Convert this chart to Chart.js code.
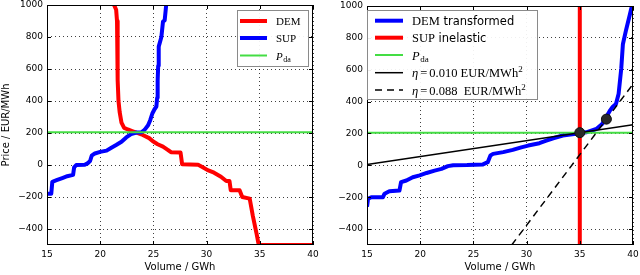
<!DOCTYPE html>
<html>
<head>
<meta charset="utf-8">
<title>Market curves</title>
<script src="https://cdn.jsdelivr.net/npm/chart.js@4"></script>
<style>
    html, body { margin: 0; padding: 0; background: #fff; }
    #wrap { display: flex; width: 640px; height: 275px; }
    canvas { display: block; }
</style>
</head>
<body>
<div id="wrap">
    <canvas id="leftChart" width="320" height="275"></canvas>
    <canvas id="rightChart" width="320" height="275"></canvas>
</div>
<script>
// Axis ticks
const volumeTicks = [15, 20, 25, 30, 35, 40];
const priceTicks = [-400, -200, 0, 200, 400, 600, 800, 1000];

// Left panel: demand curve (GWh, EUR/MWh)
const demVolume = [21.3, 21.5, 21.58, 21.62, 21.66, 21.72, 21.83, 22.0, 22.25, 22.6, 23.0, 23.4, 24.0, 24.6, 24.95, 25.4, 25.9, 26.35, 26.65, 27.55, 27.7, 29.2, 29.6, 30.1, 30.7, 31.35, 31.85, 32.15, 32.27, 33.1, 33.35, 34.05, 34.35, 34.7, 34.9, 40];
const demPrice = [1000, 970, 900, 700, 530, 400, 330, 265, 232, 222, 212, 202, 188, 168, 148, 130, 115, 95, 80, 78, 5, 2, -12, -32, -48, -73, -100, -100, -158, -158, -200, -210, -320, -430, -500, -500];

// Left panel: supply curve
const supVolume = [15, 15.4, 15.5, 15.9, 16.5, 16.9, 17.45, 17.55, 17.75, 18.55, 18.8, 19.05, 19.2, 19.5, 20.0, 20.6, 21.05, 21.5, 22.0, 22.45, 22.9, 23.4, 23.9, 24.15, 24.5, 24.7, 24.9, 25.12, 25.28, 25.35, 25.4, 25.45, 25.5, 25.75, 25.9, 26.06, 26.15, 26.2];
const supPrice = [-180, -180, -105, -95, -80, -70, -62, -15, 0, 2, 10, 25, 58, 72, 82, 90, 108, 125, 145, 172, 193, 203, 205, 218, 248, 280, 322, 350, 365, 420, 530, 620, 740, 800, 895, 905, 965, 1000];

// Day-ahead price
const priceDayAhead = 205;

// Right panel: transformed demand
const demTransVolume = [15, 15.1, 15.4, 16.5, 16.65, 17.1, 18.05, 18.2, 18.7, 19.3, 19.95, 20.6, 21.35, 22.0, 22.6, 23.1, 24.4, 25.9, 26.35, 26.6, 26.85, 27.8, 28.7, 29.5, 30.15, 31.2, 31.85, 32.5, 33.4, 35.0, 35.6, 36.55, 37.1, 37.8, 38.1, 38.4, 38.65, 38.9, 39.05, 39.35, 39.7, 39.85, 40];
const demTransPrice = [-260, -210, -200, -200, -178, -162, -158, -105, -95, -75, -63, -48, -33, -22, -5, 1, 2, 6, 20, 62, 72, 83, 97, 113, 124, 139, 155, 170, 187, 201, 207, 228, 259, 340, 368, 385, 450, 610, 760, 850, 945, 988, 1000];

// Right panel: inelastic supply volume
const supInelasticVolume = 35;

// Right panel: eta lines (end points)
const etaLowVolume = [15, 40];
const etaLowPrice = [5, 255];
const etaHighVolume = [28.6, 40];
const etaHighPrice = [-500, 510];

// Equilibrium points
const eqVolume = [35, 37.5];
const eqPrice = [205, 290];

function toPoints(xs, ys) {
    return xs.map((x, i) => ({ x: x, y: ys[i] }));
}

// Shared scale setup, both panels use the same plot box
function makeScales(showYTitle) {
    return {
        x: {
            type: "linear",
            min: 15,
            max: 40,
            afterBuildTicks: scale => { scale.ticks = volumeTicks.map(v => ({ value: v })); },
            afterFit: scale => { scale.height = 30; scale.paddingLeft = 0; scale.paddingRight = 0; },
            ticks: { color: "#000", padding: 4, font: { family: "DejaVu Sans", size: 9 } },
            grid: { color: "rgba(0,0,0,0.75)", lineWidth: 1, drawTicks: false },
            border: { display: false, dash: [1, 3] },
            title: {
                display: true,
                text: "Volume / GWh",
                color: "#000",
                font: { family: "DejaVu Sans", size: 10 },
                padding: { top: 0, bottom: 2 }
            }
        },
        y: {
            type: "linear",
            min: -500,
            max: 1000,
            afterBuildTicks: scale => { scale.ticks = priceTicks.map(v => ({ value: v })); },
            afterFit: scale => { scale.width = 47; scale.paddingTop = 0; scale.paddingBottom = 0; },
            ticks: {
                color: "#000",
                padding: 4,
                font: { family: "DejaVu Sans", size: 9 },
                callback: v => (v < 0 ? "\u2212" + Math.abs(v) : v)
            },
            grid: { color: "rgba(0,0,0,0.75)", lineWidth: 1, drawTicks: false },
            border: { display: false, dash: [1, 3] },
            title: {
                display: showYTitle,
                text: "Price / EUR/MWh",
                color: "#000",
                font: { family: "DejaVu Sans", size: 10 },
                padding: { top: 0, bottom: 0 }
            }
        }
    };
}

// Black frame with inward tick marks on all four sides
const framePlugin = {
    id: "frame",
    afterDatasetsDraw(chart) {
        const ctx = chart.ctx;
        const a = chart.chartArea;
        const xs = chart.scales.x;
        const ys = chart.scales.y;
        ctx.save();
        ctx.strokeStyle = "#000";
        ctx.lineWidth = 1;
        ctx.beginPath();
        volumeTicks.forEach(v => {
            const px = Math.round(xs.getPixelForValue(v)) + 0.5;
            ctx.moveTo(px, a.bottom); ctx.lineTo(px, a.bottom - 4);
            ctx.moveTo(px, a.top); ctx.lineTo(px, a.top + 4);
        });
        priceTicks.forEach(v => {
            const py = Math.round(ys.getPixelForValue(v)) + 0.5;
            ctx.moveTo(a.left, py); ctx.lineTo(a.left + 4, py);
            ctx.moveTo(a.right, py); ctx.lineTo(a.right - 4, py);
        });
        ctx.stroke();
        ctx.strokeRect(a.left + 0.5, a.top + 0.5, a.right - a.left - 1, a.bottom - a.top - 1);
        ctx.restore();
    }
};

// Legend drawn by hand so that sub- and superscripts work
function legendPlugin(legend) {
    return {
        id: "customLegend",
        afterDraw(chart) {
            const ctx = chart.ctx;
            const b = legend.box;
            ctx.save();
            ctx.fillStyle = "rgba(255,255,255,0.92)";
            ctx.fillRect(b.x, b.y, b.w, b.h);
            ctx.strokeStyle = "#8a8a8a";
            ctx.lineWidth = 1;
            ctx.strokeRect(b.x + 0.5, b.y + 0.5, b.w, b.h);
            legend.items.forEach((item, i) => {
                const y = legend.rows[i];
                ctx.beginPath();
                ctx.setLineDash(item.dash || []);
                ctx.strokeStyle = item.color;
                ctx.lineWidth = item.width;
                ctx.moveTo(legend.lineX, y);
                ctx.lineTo(legend.lineX + legend.lineLen, y);
                ctx.stroke();
                ctx.setLineDash([]);
                let x = legend.textX;
                ctx.fillStyle = "#000";
                ctx.textBaseline = "alphabetic";
                item.parts.forEach(p => {
                    ctx.font = p.font;
                    ctx.fillText(p.text, x, y + legend.baseline + (p.dy || 0));
                    x += ctx.measureText(p.text).width + (p.gap || 0);
                });
            });
            ctx.restore();
        }
    };
}

const serifL = "11px 'Liberation Serif'";
const serifR = "12.5px 'Liberation Serif'";
const sansR = "11.5px 'DejaVu Sans'";

const leftLegend = {
    box: { x: 237, y: 10, w: 71, h: 56 },
    lineX: 240, lineLen: 27, textX: 276, baseline: 4,
    rows: [21, 38, 55.5],
    items: [
        { color: "#ff0000", width: 4, parts: [{ text: "DEM", font: serifL }] },
        { color: "#0000ff", width: 4, parts: [{ text: "SUP", font: serifL }] },
        { color: "#44dd44", width: 2, parts: [{ text: "P", font: "italic " + serifL, gap: 0.5 }, { text: "da", font: "8px 'Liberation Serif'", dy: 2.5 }] }
    ]
};

const rightLegend = {
    box: { x: 47, y: 10, w: 170, h: 89 },
    lineX: 55, lineLen: 28, textX: 92, baseline: 4.5,
    rows: [20.7, 37.7, 55, 72.7, 90],
    items: [
        { color: "#0000ff", width: 4, parts: [{ text: "DEM", font: serifR }, { text: " transformed", font: sansR }] },
        { color: "#ff0000", width: 4, parts: [{ text: "SUP", font: serifR }, { text: " inelastic", font: sansR }] },
        { color: "#44dd44", width: 2, parts: [{ text: "P", font: "italic " + serifR, gap: 0.5 }, { text: "da", font: "9px 'Liberation Serif'", dy: 2.5 }] },
        { color: "#000", width: 1.5, parts: [{ text: "\u03b7", font: "italic " + serifR, gap: 2 }, { text: "=", font: serifR, gap: 2 }, { text: "0.010 EUR/MWh", font: serifR }, { text: "2", font: "9px 'Liberation Serif'", dy: -5 }] },
        { color: "#000", width: 1.5, dash: [7, 5], parts: [{ text: "\u03b7", font: "italic " + serifR, gap: 2 }, { text: "=", font: serifR, gap: 2 }, { text: "0.088  EUR/MWh", font: serifR }, { text: "2", font: "9px 'Liberation Serif'", dy: -5 }] }
    ]
};

const baseOptions = {
    responsive: false,
    animation: false,
    devicePixelRatio: 1,
    layout: { padding: { top: 5, right: 7, left: 0, bottom: 0 } },
    plugins: { legend: { display: false }, tooltip: { enabled: false } },
    elements: { point: { radius: 0 }, line: { tension: 0, borderJoinStyle: "round" } }
};

// Left panel
new Chart(document.getElementById("leftChart").getContext("2d"), {
    type: "line",
    data: {
        datasets: [{
            label: "DEM",
            data: toPoints(demVolume, demPrice),
            borderColor: "#ff0000",
            borderWidth: 4,
            clip: 0,
            order: 3
        }, {
            label: "SUP",
            data: toPoints(supVolume, supPrice),
            borderColor: "#0000ff",
            borderWidth: 4,
            clip: 0,
            order: 2
        }, {
            label: "P_da",
            data: toPoints([15, 40], [priceDayAhead, priceDayAhead]),
            borderColor: "#44dd44",
            borderWidth: 2,
            clip: 0,
            order: 1
        }]
    },
    options: Object.assign({}, baseOptions, { scales: makeScales(true) }),
    plugins: [framePlugin, legendPlugin(leftLegend)]
});

// Right panel
new Chart(document.getElementById("rightChart").getContext("2d"), {
    type: "line",
    data: {
        datasets: [{
            label: "DEM transformed",
            data: toPoints(demTransVolume, demTransPrice),
            borderColor: "#0000ff",
            borderWidth: 4,
            clip: 0,
            order: 6
        }, {
            label: "SUP inelastic",
            data: toPoints([supInelasticVolume, supInelasticVolume], [-500, 1000]),
            borderColor: "#ff0000",
            borderWidth: 4,
            clip: 0,
            order: 5
        }, {
            label: "P_da",
            data: toPoints([15, 40], [priceDayAhead, priceDayAhead]),
            borderColor: "#44dd44",
            borderWidth: 2,
            clip: 0,
            order: 4
        }, {
            label: "eta 0.010",
            data: toPoints(etaLowVolume, etaLowPrice),
            borderColor: "#000",
            borderWidth: 1.5,
            clip: 0,
            order: 3
        }, {
            label: "eta 0.088",
            data: toPoints(etaHighVolume, etaHighPrice),
            borderColor: "#000",
            borderWidth: 1.5,
            borderDash: [7, 5],
            clip: 0,
            order: 2
        }, {
            label: "equilibrium",
            data: toPoints(eqVolume, eqPrice),
            showLine: false,
            pointRadius: 5,
            pointBackgroundColor: "#2a2a2a",
            pointBorderColor: "#111",
            pointBorderWidth: 1,
            clip: 0,
            order: 1
        }]
    },
    options: Object.assign({}, baseOptions, { scales: makeScales(false) }),
    plugins: [framePlugin, legendPlugin(rightLegend)]
});
</script>
</body>
</html>
